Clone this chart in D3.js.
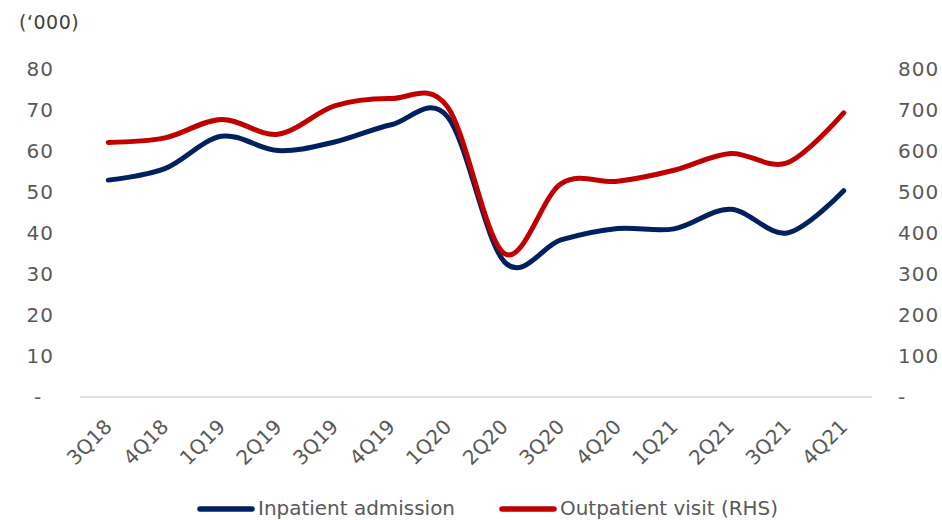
<!DOCTYPE html>
<html>
<head>
<meta charset="utf-8">
<script src="https://cdn.jsdelivr.net/npm/d3@7"></script>
<style>
  html, body { margin: 0; padding: 0; background: #fff; }
  svg { display: block; }
</style>
</head>
<body>
<svg id="chart" width="942" height="520"></svg>
<script>
// Quarterly hospital activity
const quarters = ["3Q18","4Q18","1Q19","2Q19","3Q19","4Q19","1Q20","2Q20","3Q20","4Q20","1Q21","2Q21","3Q21","4Q21"];
// Inpatient admissions ('000), left axis
const inpatient = [52.9, 55.7, 63.6, 60.1, 62.2, 66.4, 68.3, 33.0, 38.3, 41.1, 41.0, 45.8, 40.0, 50.3];
// Outpatient visits ('000), right axis
const outpatient = [621, 632, 677, 641, 710, 728, 707, 350, 520, 526, 553, 594, 571, 693];
const leftTicks = [0, 10, 20, 30, 40, 50, 60, 70, 80];
const rightTicks = [0, 100, 200, 300, 400, 500, 600, 700, 800];
const seriesNames = ["Inpatient admission", "Outpatient visit (RHS)"];
const colors = ["#002060", "#C00000"];

const svg = d3.select("#chart");
const plot = { left: 80, right: 872, top: 69, bottom: 397 };
const fontStack = "'DejaVu Sans', Verdana, sans-serif";

const x = d3.scaleBand().domain(quarters).range([plot.left, plot.right]).padding(0);
const yL = d3.scaleLinear().domain([0, 80]).range([plot.bottom, plot.top]);
const yR = d3.scaleLinear().domain([0, 800]).range([plot.bottom, plot.top]);
const cx = q => x(q) + x.bandwidth() / 2;

// Unit note
svg.append("text")
  .attr("x", 19).attr("y", 29)
  .attr("font-family", fontStack).attr("font-size", 19)
  .attr("letter-spacing", 0.5)
  .attr("fill", "#404040")
  .text("(\u2018000)");

const tickFmt = d => d === 0 ? "-" : d3.format("d")(d);

// Left axis
const gL = svg.append("g").attr("transform", "translate(54,0)")
  .call(d3.axisLeft(yL).tickValues(leftTicks).tickSize(0).tickPadding(0).tickFormat(tickFmt));
gL.select(".domain").remove();
gL.selectAll("text")
  .attr("font-family", fontStack).attr("font-size", 20).attr("fill", "#595959")
  .attr("letter-spacing", 1).attr("dy", "0.33em")
  .filter(d => d === 0).attr("text-anchor", "middle").attr("dx", -16);

// Right axis
const gR = svg.append("g").attr("transform", "translate(898,0)")
  .call(d3.axisRight(yR).tickValues(rightTicks).tickSize(0).tickPadding(0).tickFormat(tickFmt));
gR.select(".domain").remove();
gR.selectAll("text")
  .attr("font-family", fontStack).attr("font-size", 20).attr("fill", "#595959")
  .attr("letter-spacing", 1).attr("dy", "0.33em");

// Baseline
svg.append("line")
  .attr("x1", plot.left).attr("x2", plot.right)
  .attr("y1", yL(0)).attr("y2", yL(0))
  .attr("stroke", "#d9d9d9").attr("stroke-width", 1.5);

// Category axis, rotated labels
const gX = svg.append("g").attr("transform", `translate(0,${plot.bottom})`)
  .call(d3.axisBottom(x).tickSize(0).tickPadding(0));
gX.select(".domain").remove();
gX.selectAll("text")
  .attr("font-family", fontStack).attr("font-size", 20).attr("fill", "#595959")
  .attr("text-anchor", "end")
  .attr("dy", 0)
  .attr("transform", "translate(5,31) rotate(-45)");

// Smoothed lines
const curve = d3.curveCatmullRom.alpha(0);
const lineL = d3.line().x((d, i) => cx(quarters[i])).y(d => yL(d)).curve(curve);
const lineR = d3.line().x((d, i) => cx(quarters[i])).y(d => yR(d)).curve(curve);

svg.append("path").datum(inpatient)
  .attr("d", lineL).attr("fill", "none")
  .attr("stroke", colors[0]).attr("stroke-width", 5)
  .attr("stroke-linecap", "round").attr("stroke-linejoin", "round");

svg.append("path").datum(outpatient)
  .attr("d", lineR).attr("fill", "none")
  .attr("stroke", colors[1]).attr("stroke-width", 5)
  .attr("stroke-linecap", "round").attr("stroke-linejoin", "round");

// Legend
const legendItems = [
  { name: seriesNames[0], color: colors[0], x: 200, w: 197 },
  { name: seriesNames[1], color: colors[1], x: 502, w: 218 }
];
const lg = svg.append("g");
legendItems.forEach(it => {
  lg.append("line")
    .attr("x1", it.x).attr("x2", it.x + 52)
    .attr("y1", 509).attr("y2", 509)
    .attr("stroke", it.color).attr("stroke-width", 5.5).attr("stroke-linecap", "round");
  lg.append("text")
    .attr("x", it.x + 58).attr("y", 515)
    .attr("font-family", fontStack).attr("font-size", 20)
    .attr("textLength", it.w).attr("lengthAdjust", "spacingAndGlyphs")
    .attr("fill", "#595959")
    .text(it.name);
});
</script>
</body>
</html>
